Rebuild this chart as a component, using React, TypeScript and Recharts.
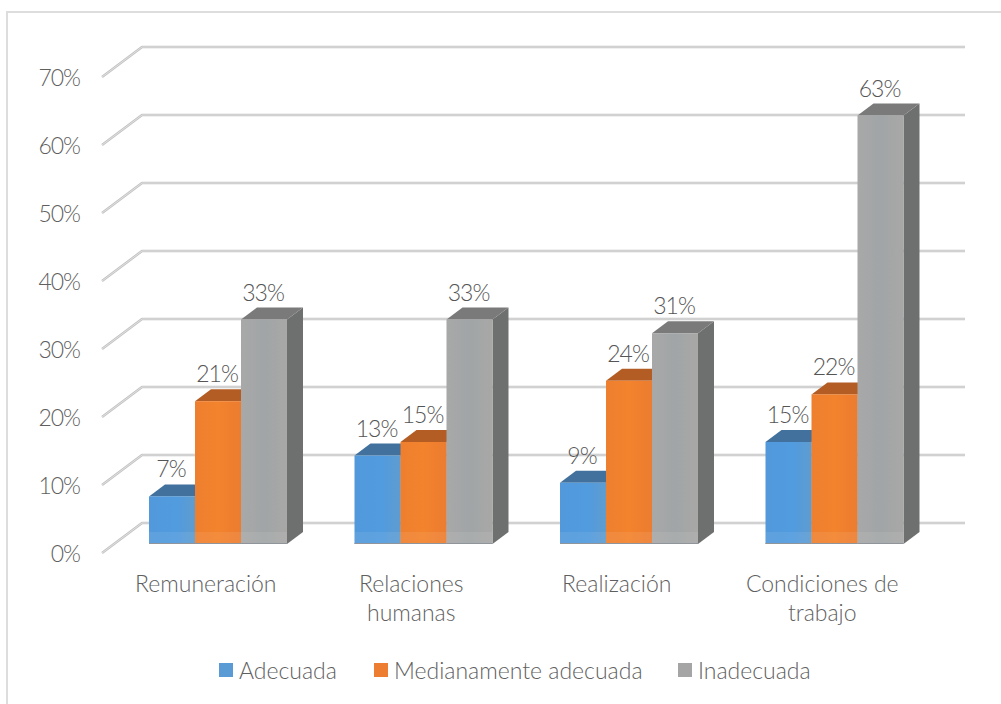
import React from 'react';
import { BarChart, Bar, XAxis, YAxis, CartesianGrid, Legend, LabelList } from 'recharts';

const categories = ['Remuneración', 'Relaciones humanas', 'Realización', 'Condiciones de trabajo'];
const adecuada = [7, 13, 9, 15];
const medianamente = [21, 15, 24, 22];
const inadecuada = [33, 33, 31, 63];
const yTicks = [0, 10, 20, 30, 40, 50, 60, 70];

const rows = categories.map((name, i) => ({
  name,
  adecuada: adecuada[i],
  medianamente: medianamente[i],
  inadecuada: inadecuada[i],
}));

const FONT = 'Lato, "Open Sans", sans-serif';
const TEXT = '#5f5f5f';
const DEPTH_X = 16;
const DEPTH_Y = 12;

const PALETTE: Record<string, { front: string; top: string; side: string; grad: string }> = {
  adecuada: { front: '#5b9bd5', top: '#41719c', side: '#3a6690', grad: 'gBlue' },
  medianamente: { front: '#ed7d31', top: '#b35d24', side: '#a5551f', grad: 'gOrange' },
  inadecuada: { front: '#a5a5a5', top: '#7a7a7a', side: '#6e7070', grad: 'gGrey' },
};

// Extruded bar: front face, lid, right flank and a paler strip where it meets the floor.
const Bar3D = ({ x, y, width, height, dataKey }: any) => {
  const c = PALETTE[dataKey];
  const r = x + width;
  const b = y + height;
  return (
    <g>
      <polygon
        points={`${r},${y} ${r + DEPTH_X},${y - DEPTH_Y} ${r + DEPTH_X},${b - DEPTH_Y} ${r},${b}`}
        fill={c.side}
      />
      <polygon
        points={`${x},${y} ${x + DEPTH_X},${y - DEPTH_Y} ${r + DEPTH_X},${y - DEPTH_Y} ${r},${y}`}
        fill={c.top}
      />
      <rect x={x} y={y} width={width} height={height} fill={`url(#${c.grad})`} />
      <rect x={x} y={Math.max(y, b - 12)} width={width} height={Math.min(12, height)} fill="#ffffff" opacity={0.08} />
      <line x1={x} y1={b - 0.5} x2={r} y2={b - 0.5} stroke="#8f959b" strokeWidth={1} />
    </g>
  );
};

// Each grid level: the slanted side-wall stroke, then the run along the back wall.
const GridLevel = ({ y1 }: any) => {
  const back = y1 - 21;
  const points = `102,${y1 + 9} 142,${back} 965,${back}`;
  return (
    <g fill="none" strokeLinejoin="round">
      <polyline points={points} stroke="#c2c2c2" strokeWidth={2.5} />
      <polyline points={points} stroke="#e8e8e8" strokeWidth={0.8} />
    </g>
  );
};

const ValueTick = ({ y, payload }: any) => (
  <text
    x={80}
    y={y + 10}
    dy="0.35em"
    textAnchor="end"
    fontFamily={FONT}
    fontWeight={300}
    fontSize={23}
    letterSpacing={-1}
    fill={TEXT}
  >
    {payload.value}%
  </text>
);

const wrapWords = (label: string, limit: number) => {
  const lines: string[] = [];
  label.split(' ').forEach((word) => {
    const last = lines[lines.length - 1];
    if (last !== undefined && `${last} ${word}`.length <= limit) {
      lines[lines.length - 1] = `${last} ${word}`;
    } else {
      lines.push(word);
    }
  });
  return lines;
};

const CategoryTick = ({ x, payload }: any) => (
  <text textAnchor="middle" fontFamily={FONT} fontWeight={300} fontSize={23} fill={TEXT}>
    {wrapWords(payload.value, 16).map((line, i) => (
      <tspan key={line} x={x - 12} y={592 + i * 29}>
        {line}
      </tspan>
    ))}
  </text>
);

const ValueLabel = ({ x, y, width, value }: any) => (
  <text
    x={x + width / 2 - 1}
    y={y - DEPTH_Y - 15}
    dy="0.35em"
    textAnchor="middle"
    fontFamily={FONT}
    fontWeight={300}
    fontSize={23}
    letterSpacing={-1}
    fill="#555555"
  >
    {value}%
  </text>
);

const LEGEND_WIDTHS: Record<string, number> = {
  Adecuada: 155,
  'Medianamente adecuada': 304,
  Inadecuada: 160,
};

const LegendRow = ({ payload }: any) => (
  <div style={{ display: 'flex', paddingLeft: 219, fontFamily: FONT, fontWeight: 300, fontSize: 23, color: TEXT, lineHeight: '28px' }}>
    {payload.map((entry: any) => (
      <div key={entry.value} style={{ display: 'flex', alignItems: 'center', width: LEGEND_WIDTHS[entry.value] }}>
        <span style={{ width: 14, height: 14, background: entry.color, marginRight: 6, flex: 'none' }} />
        {entry.value}
      </div>
    ))}
  </div>
);

export default function App() {
  return (
    <div style={{ position: 'absolute', left: 0, top: 0, width: 1001, height: 704, overflow: 'hidden', background: '#fff' }}>
      <div
        style={{
          position: 'absolute',
          left: 6,
          top: 11,
          width: 995,
          height: 693,
          borderLeft: '2px solid #dddddd',
          borderTop: '2px solid #dddddd',
          boxSizing: 'border-box',
        }}
      />
      <BarChart
        width={1001}
        height={704}
        data={rows}
        margin={{ top: 68, right: 64, bottom: 0, left: 0 }}
        barCategoryGap={34}
        barGap={0}
        style={{ position: 'absolute', left: 0, top: 0 }}
      >
        <defs>
          <linearGradient id="gBlue" x1="0" y1="0" x2="1" y2="0">
            <stop offset="0" stopColor="#5199db" />
            <stop offset="0.6" stopColor="#519bdf" />
            <stop offset="1" stopColor="#5f9ccf" />
          </linearGradient>
          <linearGradient id="gOrange" x1="0" y1="0" x2="1" y2="0">
            <stop offset="0" stopColor="#ee7f2f" />
            <stop offset="0.5" stopColor="#f3832c" />
            <stop offset="1" stopColor="#ec7c30" />
          </linearGradient>
          <linearGradient id="gGrey" x1="0" y1="0" x2="1" y2="0">
            <stop offset="0" stopColor="#a8a8a8" />
            <stop offset="0.5" stopColor="#a1a5a7" />
            <stop offset="1" stopColor="#a8a8a6" />
          </linearGradient>
        </defs>
        <CartesianGrid vertical={false} horizontal={(props: any) => <GridLevel key={props.y1} {...props} />} />
        <XAxis dataKey="name" height={160} axisLine={false} tickLine={false} tick={CategoryTick} interval={0} />
        <YAxis
          width={115}
          domain={[0, 70]}
          ticks={yTicks}
          axisLine={false}
          tickLine={false}
          tick={ValueTick}
        />
        <Legend
          layout="horizontal"
          verticalAlign="middle"
          itemSorter={null}
          wrapperStyle={{ left: 0, top: 656, width: 1001 }}
          content={LegendRow}
        />
        <Bar dataKey="adecuada" name="Adecuada" fill="#5b9bd5" isAnimationActive={false} shape={Bar3D}>
          <LabelList dataKey="adecuada" content={ValueLabel} />
        </Bar>
        <Bar dataKey="medianamente" name="Medianamente adecuada" fill="#ed7d31" isAnimationActive={false} shape={Bar3D}>
          <LabelList dataKey="medianamente" content={ValueLabel} />
        </Bar>
        <Bar dataKey="inadecuada" name="Inadecuada" fill="#a5a5a5" isAnimationActive={false} shape={Bar3D}>
          <LabelList dataKey="inadecuada" content={ValueLabel} />
        </Bar>
      </BarChart>
    </div>
  );
}
